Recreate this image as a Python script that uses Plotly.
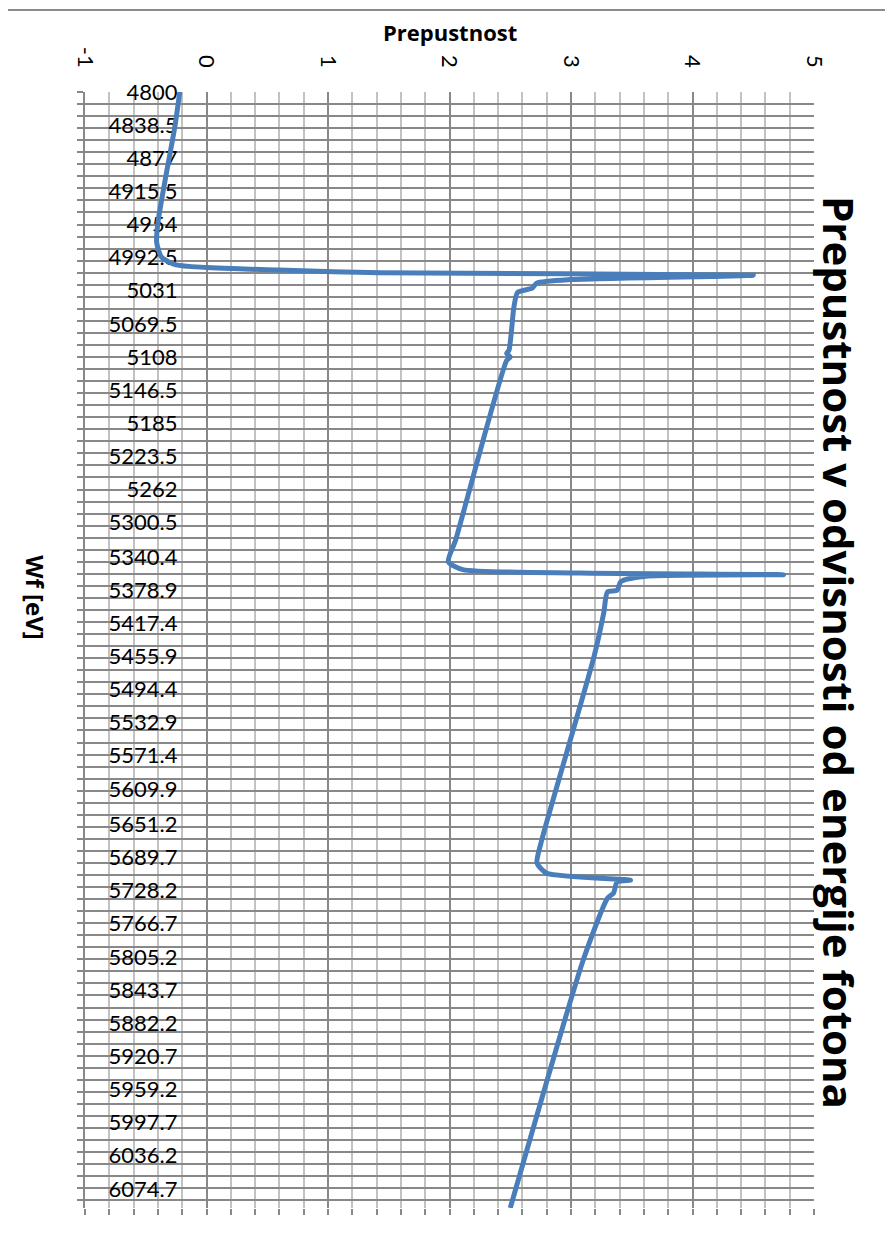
import plotly.graph_objects as go

# Photon energy Wf [eV] (category positions) and transmission ("Prepustnost")
wf = [4800, 4840, 4902, 4952, 4975, 4992, 5001, 5007, 5010, 5013, 5018, 5022, 5028,
      5033, 5050, 5100, 5104, 5108, 5112, 5321, 5346, 5355, 5359, 5361, 5363, 5369,
      5379, 5381, 5405, 5456, 5669, 5696, 5708, 5716, 5718, 5731, 5737, 5809, 6097]
prepustnost = [-0.22, -0.26, -0.34, -0.40, -0.41, -0.37, -0.25, 0.60, 1.43, 4.50, 3.00,
               2.72, 2.68, 2.56, 2.53, 2.49, 2.47, 2.50, 2.47, 2.05, 1.99, 2.11, 3.08,
               4.75, 3.60, 3.41, 3.38, 3.30, 3.27, 3.19, 2.76, 2.72, 2.80, 3.49, 3.38,
               3.35, 3.30, 3.10, 2.50]

# category tick labels shown on the energy axis
wf_ticks = [4800, 4838.5, 4877, 4915.5, 4954, 4992.5, 5031, 5069.5, 5108, 5146.5, 5185,
            5223.5, 5262, 5300.5, 5340.4, 5378.9, 5417.4, 5455.9, 5494.4, 5532.9, 5571.4,
            5609.9, 5651.2, 5689.7, 5728.2, 5766.7, 5805.2, 5843.7, 5882.2, 5920.7,
            5959.2, 5997.7, 6036.2, 6074.7]
wf_tick_text = ["4800", "4838.5", "4877", "4915.5", "4954", "4992.5", "5031", "5069.5",
                "5108", "5146.5", "5185", "5223.5", "5262", "5300.5", "5340.4", "5378.9",
                "5417.4", "5455.9", "5494.4", "5532.9", "5571.4", "5609.9", "5651.2",
                "5689.7", "5728.2", "5766.7", "5805.2", "5843.7", "5882.2", "5920.7",
                "5959.2", "5997.7", "6036.2", "6074.7"]
value_ticks = [-1, 0, 1, 2, 3, 4, 5]
value_tick_text = ["-1", "0", "1", "2", "3", "4", "5"]

X_RANGE = [-1, 5]
Y_RANGE = [6097, 4800]
FONT = "Lato, Open Sans, sans-serif"
BOLD_FONT = "Open Sans, Lato, sans-serif"
GRID_DARK = "#888888"
GRID_LIGHT = "#c2c2c2"

fig = go.Figure()
# invisible trace to activate secondary (tick-only) axes
fig.add_trace(go.Scatter(x=prepustnost, y=wf, xaxis="x2", yaxis="y2", mode="lines",
                         line=dict(width=0), hoverinfo="skip", showlegend=False))
fig.add_trace(go.Scatter(x=prepustnost, y=wf, mode="lines",
                         line=dict(color="#4a7ebb", width=5, shape="spline", smoothing=0.6),
                         showlegend=False))

fig.update_layout(
    width=893, height=1233,
    margin=dict(l=77, r=87, t=84, b=33, autoexpand=False),
    paper_bgcolor="white", plot_bgcolor="white",
    font=dict(family=FONT, color="black"),
    xaxis=dict(
        side="top", range=X_RANGE, tickvals=value_ticks, ticktext=value_tick_text,
        tickangle=90, tickfont=dict(size=22), ticks="", ticklabelstandoff=20,
        showgrid=True, gridcolor=GRID_DARK, gridwidth=1.8, zeroline=False,
        minor=dict(dtick=0.2, tick0=-1, showgrid=True, gridcolor=GRID_LIGHT, gridwidth=1.8),
        showline=False, anchor="y", automargin=False,
    ),
    xaxis2=dict(
        overlaying="x", side="bottom", range=X_RANGE, anchor="y2",
        tick0=-1, dtick=0.2, ticks="outside", ticklen=6, tickcolor=GRID_DARK, tickwidth=1.5,
        showticklabels=False, showgrid=False, zeroline=False, showline=False, automargin=False,
    ),
    yaxis=dict(
        range=Y_RANGE, tickvals=wf_ticks, ticktext=wf_tick_text,
        tickfont=dict(size=22), ticks="", anchor="free",
        position=(0 - X_RANGE[0]) / (X_RANGE[1] - X_RANGE[0]),
        ticklabelstandoff=29, layer="below traces",
        showgrid=False, zeroline=False, showline=False, automargin=False,
        minor=dict(dtick=14, tick0=4800, showgrid=True, gridcolor=GRID_DARK, gridwidth=1.8),
    ),
    yaxis2=dict(
        overlaying="y", range=Y_RANGE, anchor="x2", side="left",
        tick0=4800, dtick=14, ticks="outside", ticklen=6, tickcolor=GRID_DARK, tickwidth=1.5,
        showticklabels=False, showgrid=False, zeroline=False, automargin=False,
        showline=True, linecolor=GRID_DARK, linewidth=1.8,
    ),
    annotations=[
        dict(text="<b>Prepustnost</b>", xref="paper", yref="paper", x=0.5, y=1.054,
             showarrow=False, font=dict(size=22, family=BOLD_FONT),
             xanchor="center", yanchor="middle"),
        dict(text="<b>Wf [eV]</b>", xref="paper", yref="paper", x=-0.069, y=0.5475,
             showarrow=False, font=dict(size=24, family=BOLD_FONT), textangle=90,
             xanchor="center", yanchor="middle"),
        dict(text="<b>Prepustnost v odvisnosti od energije fotona</b>", xref="paper",
             yref="paper", x=1.036, y=0.498, showarrow=False,
             font=dict(size=42, family=BOLD_FONT),
             textangle=90, xanchor="center", yanchor="middle"),
    ],
    shapes=[
        dict(type="line", xref="paper", yref="paper", x0=-0.2, x1=1.0988, y0=1.0735,
             y1=1.0735, line=dict(color="#8c8c8c", width=2)),
        dict(type="line", xref="paper", yref="paper", x0=1.0988, x1=1.0988, y0=-0.1,
             y1=1.0735, line=dict(color="#8c8c8c", width=2)),
    ],
)

fig.write_html("out.html")
